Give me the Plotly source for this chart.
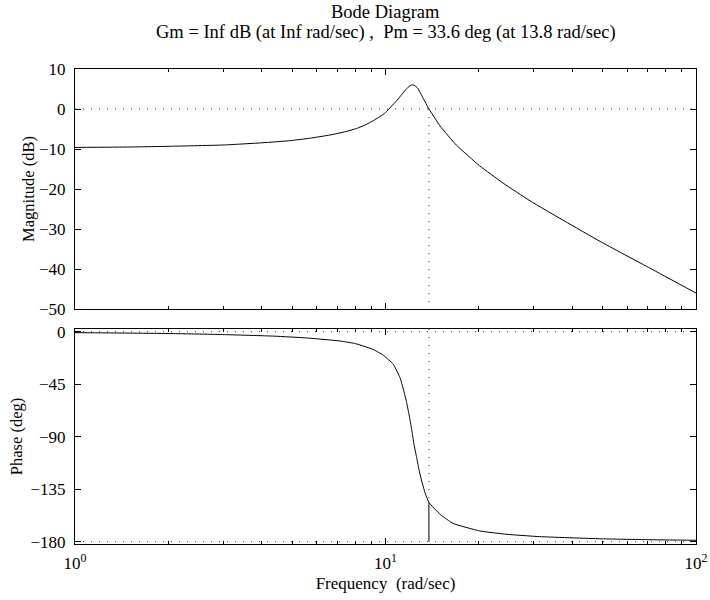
import plotly.graph_objects as go

# ---- data ----
mag_freq = [1.0, 1.5, 2.08, 3.0, 4.0, 4.95, 5.7, 6.63, 7.4, 8.08, 8.6, 9.14, 9.6,
            10.0, 10.4, 10.9, 11.3, 11.7, 12.1, 12.4, 12.7, 13.2, 13.8, 14.4, 15.0,
            16.9, 20.1, 23.9, 29.2, 37.8, 49.1, 71.1, 100.0]
mag_db = [-9.6, -9.5, -9.3, -9.0, -8.45, -7.9, -7.3, -6.5, -5.7, -4.85, -4.0, -2.9, -1.9,
          -0.9, 0.5, 2.2, 3.7, 5.1, 6.0, 5.9, 5.2, 2.8, 0.0, -2.2, -4.3,
          -9.0, -14.2, -18.5, -22.95, -28.05, -33.1, -39.8, -46.0]

ph_freq = [1.0, 2.08, 3.02, 4.37, 5.6, 7.14, 8.0, 8.53, 9.14, 9.84, 10.6, 11.14, 11.41, 11.7,
           11.93, 12.14, 12.35, 12.6, 12.85, 13.08, 13.4, 13.8, 15.0, 16.5, 20.1, 24.6,
           31.4, 49.0, 70.0, 100.0]
ph_deg = [-0.8, -1.6, -2.5, -3.8, -5.4, -8.0, -10.2, -12.5, -15.3, -20.2, -28.0, -39.5, -49.0, -60.8,
          -72.3, -83.7, -96.5, -108.0, -119.5, -128.0, -138.0, -146.4, -156.6, -164.3, -170.8, -173.7,
          -175.7, -177.5, -178.3, -178.8]

gm_text = "Inf"
pm_value = 33.6          # deg
pm_freq = 13.8           # rad/sec
freq_limits = [1.0, 100.0]
mag_limits = [-50, 10]
ph_limits = [-182, 2.3]
mag_ticks = [10, 0, -10, -20, -30, -40, -50]
ph_ticks = [0, -45, -90, -135, -180]
freq_ticks = [1, 10, 100]
freq_ticktext = ["10<sup>0</sup>", "10<sup>1</sup>", "10<sup>2</sup>"]
minor_ticks = [2, 3, 4, 5, 6, 7, 8, 9, 20, 30, 40, 50, 60, 70, 80, 90]

FONT = "Liberation Serif, Times New Roman, serif"
NB = "\u00a0"
TICK_SIZE = 17
TITLE_SIZE = 18.5
LABEL_SIZE = 16.5

fig = go.Figure()

dot = dict(color="#333333", width=1, dash="1px,7px")
curve = dict(color="black", width=1, shape="spline", smoothing=0.4)

# magnitude reference lines
fig.add_trace(go.Scatter(x=freq_limits, y=[0, 0], mode="lines", line=dot,
                         xaxis="x", yaxis="y", hoverinfo="skip"))
fig.add_trace(go.Scatter(x=[pm_freq, pm_freq], y=[0, mag_limits[0]], mode="lines", line=dot,
                         xaxis="x", yaxis="y", hoverinfo="skip"))
# magnitude curve
fig.add_trace(go.Scatter(x=mag_freq, y=mag_db, mode="lines", line=curve,
                         xaxis="x", yaxis="y"))

# phase reference lines
fig.add_trace(go.Scatter(x=freq_limits, y=[0, 0], mode="lines", line=dot,
                         xaxis="x2", yaxis="y2", hoverinfo="skip"))
fig.add_trace(go.Scatter(x=freq_limits, y=[-180, -180], mode="lines", line=dot,
                         xaxis="x2", yaxis="y2", hoverinfo="skip"))
fig.add_trace(go.Scatter(x=[pm_freq, pm_freq], y=[ph_limits[1], -180 + pm_value], mode="lines",
                         line=dot, xaxis="x2", yaxis="y2", hoverinfo="skip"))
fig.add_trace(go.Scatter(x=[pm_freq, pm_freq], y=[-180 + pm_value, -180], mode="lines",
                         line=dict(color="black", width=1), xaxis="x2", yaxis="y2",
                         hoverinfo="skip"))
# phase curve
fig.add_trace(go.Scatter(x=ph_freq, y=ph_deg, mode="lines", line=curve,
                         xaxis="x2", yaxis="y2"))

common_x = dict(type="log", range=[0, 2], showgrid=False, zeroline=False, automargin=False,
                showline=True, linecolor="black", linewidth=1, mirror="ticks",
                ticks="inside", ticklen=6, tickcolor="black", tickwidth=1,
                tickvals=freq_ticks,
                minor=dict(ticks="inside", ticklen=3, tickcolor="black",
                           tickvals=minor_ticks, showgrid=False),
                tickfont=dict(family=FONT, size=TICK_SIZE, color="black"))
common_y = dict(showgrid=False, zeroline=False, showline=True, linecolor="black",
                automargin=False,
                linewidth=1, mirror="ticks", ticks="inside", ticklen=6,
                tickcolor="black", tickwidth=1, ticklabelstandoff=5,
                tickfont=dict(family=FONT, size=TICK_SIZE, color="black"))

fig.update_layout(
    width=710, height=600,
    margin=dict(l=75, r=14, t=69, b=56),
    paper_bgcolor="white", plot_bgcolor="white",
    showlegend=False,
    font=dict(family=FONT, size=LABEL_SIZE, color="black"),
    xaxis=dict(**common_x, anchor="y", showticklabels=False, domain=[0, 1]),
    yaxis=dict(**common_y, range=mag_limits, tickvals=mag_ticks, domain=[0.4947, 1],
               anchor="x",
               title=dict(text="Magnitude (dB)", font=dict(family=FONT, size=LABEL_SIZE),
                          standoff=0)),
    xaxis2=dict(**common_x, anchor="y2", matches="x", ticktext=freq_ticktext, domain=[0, 1],
                ticklabelstandoff=4,
                title=dict(text="Frequency" + NB + NB + "(rad/sec)",
                           font=dict(family=FONT, size=LABEL_SIZE + 0.5), standoff=4)),
    yaxis2=dict(**common_y, range=ph_limits, tickvals=ph_ticks, domain=[0, 0.4526],
                anchor="x2",
                title=dict(text="Phase (deg)", font=dict(family=FONT, size=LABEL_SIZE),
                           standoff=3)),
    annotations=[
        dict(text="Bode Diagram", xref="paper", yref="paper", x=0.5, y=1,
             yshift=57, showarrow=False, xanchor="center", yanchor="middle",
             font=dict(family=FONT, size=TITLE_SIZE, color="black")),
        dict(text="Gm = " + gm_text + " dB (at " + gm_text + " rad/sec) ," + NB + NB + "Pm = "
             + str(pm_value) + " deg (at " + str(pm_freq) + " rad/sec)",
             xref="paper", yref="paper", x=0.5, y=1, yshift=37, showarrow=False,
             xanchor="center", yanchor="middle",
             font=dict(family=FONT, size=TITLE_SIZE, color="black")),
    ],
)

fig.write_html("out.html")
